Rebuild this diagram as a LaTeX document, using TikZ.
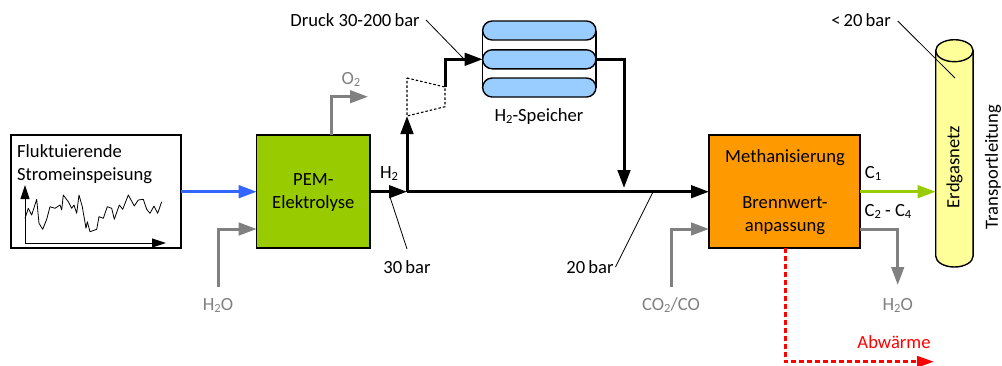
\documentclass[tikz,border=0pt]{standalone}
\usepackage{fontspec}
\setmainfont{Carlito}
\usetikzlibrary{arrows.meta}
\definecolor{pemgreen}{HTML}{99CC00}
\definecolor{methorange}{HTML}{FF9900}
\definecolor{tankblue}{HTML}{99CCFF}
\definecolor{gasyellow}{HTML}{FFFF99}
\definecolor{powerblue}{HTML}{3366FF}
\definecolor{flowgray}{HTML}{808080}
\newcommand{\subs}[1]{\raisebox{-0.3ex}{\fontsize{12.5}{12.5}\selectfont #1}}
\tikzset{
  txt/.style={inner sep=0pt,font=\fontsize{18.6}{18.6}\selectfont,text=black},
  graytxt/.style={txt,text=flowgray},
  procbox/.style={draw=black,line width=1.4pt,inner sep=0pt,outer sep=0pt,anchor=north west},
  tankrow/.style={draw=black,line width=1.4pt,fill=tankblue,rounded corners=9.5pt,inner sep=0pt,outer sep=0pt,minimum width=113.3pt,minimum height=19pt},
  flowarrow/.style={line width=#1,-{Triangle[length=18pt,width=12.5pt]}},
  flowarrow/.default=3pt,
  mainflow/.style={flowarrow=3pt,draw=black},
  grayflow/.style={flowarrow=3pt,draw=flowgray},
  leader/.style={draw=black,line width=0.8pt},
}
\begin{document}
\begin{tikzpicture}[x=1pt,y=-1pt]
\useasboundingbox (0,0) rectangle (1002,365);
% boxes
\node[procbox,fill=white,minimum width=170pt,minimum height=113pt] (src) at (11,135) {};
\node[procbox,fill=pemgreen,minimum width=113.3pt,minimum height=113pt] (pem) at (256.7,135) {};
\node[procbox,fill=methorange,minimum width=151pt,minimum height=113pt] (meth) at (709,135) {};
% source box content
\node[txt,anchor=base west] (t1) at (17,157) {Fluktuierende};
\node[txt,anchor=base west] (t2) at (17,180) {Stromeinspeisung};
\coordinate (ax0) at (25,243);
\coordinate (axy) at (25,185);
\coordinate (axx) at (166,243);
\draw[line width=1pt,-{Triangle[length=14pt,width=9pt]}] (ax0) -- (axy);
\draw[line width=1pt,-{Triangle[length=14pt,width=9pt]}] (ax0) -- (axx);
\draw[line width=0.8pt,line join=round] (25,218.3) -- (28.3,208.3) -- (31.7,215) -- (36.7,199.3) -- (39,223.3) -- (42.7,229.3) -- (46.7,219.3) -- (50,206.7) -- (55,208.3) -- (60,205) -- (61.7,210) -- (63.3,195) -- (68.3,201.7) -- (71.7,208.3) -- (74,205) -- (76.7,213.3) -- (79,195) -- (82.3,206.7) -- (86,228.3) -- (87.3,221.7) -- (90,231.7) -- (96.7,229.3) -- (99,216.7) -- (103.3,218.3) -- (107.3,206.7) -- (111.7,208.3) -- (114.3,219.3) -- (119.3,205) -- (122.7,209.3) -- (128.3,195) -- (134.3,206) -- (138.3,200) -- (143.3,199.3) -- (146.7,209.3) -- (150,213.3) -- (154,206) -- (157.7,213.3) -- (161.7,201.7);
% labels in boxes
\node[txt,anchor=base] (pl1) at (313.3,185) {PEM-};
\node[txt,anchor=base] (pl2) at (313.3,208) {Elektrolyse};
\node[txt,anchor=base] (ml1) at (785,162) {Methanisierung};
\node[txt,anchor=base] (ml2) at (785,208) {Brennwert-};
\node[txt,anchor=base] (ml3) at (785,231) {anpassung};
% storage
\node[tankrow] (tank1) at (539.3,30.5) {};
\node[tankrow] (tank2) at (539.3,59.3) {};
\node[tankrow] (tank3) at (539.3,87.5) {};
\draw[line width=1.2pt] (tank1.west) -- (tank3.west);
\draw[line width=1.2pt] (tank1.east) -- (tank3.east);
\node[txt,anchor=base] (tl) at (539,121) {H\subs{2}-Speicher};
% cylinder
\filldraw[draw=black,fill=gasyellow,line width=1.4pt] (935.7,50.7) -- (935.7,256) arc[start angle=180,end angle=360,x radius=18.7pt,y radius=11pt] -- (973.1,50.7) arc[start angle=0,end angle=180,x radius=18.7pt,y radius=11pt] -- cycle;
\draw[line width=1.4pt] (935.7,50.7) arc[start angle=180,end angle=360,x radius=18.7pt,y radius=11pt];
\node[txt,rotate=90,anchor=center] (gas) at (954.5,167) {Erdgasnetz};
\node[txt,rotate=90,anchor=center] (trans) at (993,167) {Transportleitung};
% compressor
\coordinate (c1) at (407,78);
\coordinate (c2) at (445,87);
\coordinate (c3) at (445,106.7);
\coordinate (c4) at (407,116);
\draw[line width=1.1pt,dash pattern=on 2.5pt off 2pt] (c1) -- (c2) -- (c3) -- (c4) -- cycle;
% flows
\coordinate (h2junction) at (407,191.7);
\coordinate (meth1) at (709,191.7);
\coordinate (pemOut) at (370,191.7);
\coordinate (srcOut) at (181,191.7);
\coordinate (pemIn) at (256.7,191.7);
\coordinate (tankDrop) at (624,188);
\draw[mainflow] (pemOut) -- (h2junction);
\draw[mainflow] (h2junction) -- (meth1);
\draw[mainflow] (h2junction) -- (c4);
\draw[mainflow,line join=miter] (c2) |- (tank2.west);
\draw[mainflow] (tank2.east) -| (tankDrop);
\draw[draw=powerblue,flowarrow=3pt] (srcOut) -- (pemIn);
\coordinate (w1) at (218,287);
\coordinate (w2) at (256.7,229);
\draw[grayflow] (w1) |- (w2);
\coordinate (o1) at (331.7,135);
\coordinate (o2) at (368,96.7);
\draw[grayflow] (o1) |- (o2);
\coordinate (co1) at (671,287);
\coordinate (co2) at (709,229);
\draw[grayflow] (co1) |- (co2);
\coordinate (h1) at (860,229);
\coordinate (h2) at (897.7,285);
\draw[grayflow] (h1) -| (h2);
\coordinate (c1out) at (860,191.7);
\coordinate (c1in) at (935.7,191.7);
\draw[draw=pemgreen,flowarrow=3pt] (c1out) -- (c1in);
\coordinate (r1) at (785,248);
\coordinate (r2) at (934,361.7);
\draw[draw=red,line width=3pt,dash pattern=on 5pt off 3pt,-{Triangle[length=17pt,width=11pt]}] (r1) |- (r2);
% leaders
\coordinate (ld1) at (426,20);
\coordinate (ld2) at (463,58);
\draw[leader] (ld1) -- (ld2);
\coordinate (lc1) at (897.7,21);
\coordinate (lc2) at (955,78);
\draw[leader] (lc1) -- (lc2);
\coordinate (l301) at (390,197);
\coordinate (l302) at (407,249);
\draw[leader] (l301) -- (l302);
\coordinate (l201) at (615.5,267);
\coordinate (l202) at (652.7,192.5);
\draw[leader] (l201) -- (l202);
% texts
\node[txt,anchor=base] (d) at (355,26) {Druck 30-200\,bar};
\node[txt,anchor=base] (lt) at (861,26) {<\,20\,bar};
\node[txt,anchor=base] (b30) at (407,273) {30\,bar};
\node[txt,anchor=base] (b20) at (590,273) {20\,bar};
\node[txt,anchor=base] (h2t) at (389,178) {H\subs{2}};
\node[txt,anchor=base] (c1t) at (873,178) {C\subs{1}};
\node[txt,anchor=base] (c2t) at (888,216) {C\subs{2} - C\subs{4}};
\node[graytxt,anchor=base] (o2t) at (351,84) {O\subs{2}};
\node[graytxt,anchor=base] (w1t) at (218,310) {H\subs{2}O};
\node[graytxt,anchor=base] (co2t) at (671,310) {CO\subs{2}/CO};
\node[graytxt,anchor=base] (w2t) at (897.7,310) {H\subs{2}O};
\node[txt,anchor=base,text=red] (abw) at (894,348) {Abwärme};
\end{tikzpicture}
\end{document}
